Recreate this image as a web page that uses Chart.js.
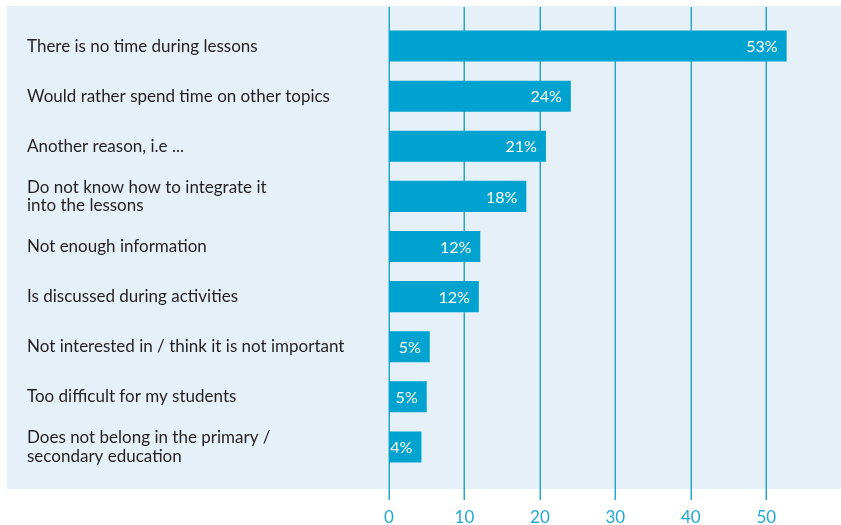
<!DOCTYPE html>
<html>
<head>
<meta charset="utf-8">
<script src="https://cdn.jsdelivr.net/npm/chart.js@4/dist/chart.umd.min.js"></script>
<style>
  html, body { margin: 0; padding: 0; background: #fff; }
  #wrap { width: 841px; height: 525px; }
</style>
</head>
<body>
<div id="wrap"><canvas id="reasonsChart" width="841" height="525"></canvas></div>
<script>
// -----------------------------
// Data
// -----------------------------
const reasons = [
  "There is no time during lessons",
  "Would rather spend time on other topics",
  "Another reason, i.e ...",
  ["Do not know how to integrate it", "into the lessons"],
  "Not enough information",
  "Is discussed during activities",
  "Not interested in / think it is not important",
  "Too difficult for my students",
  ["Does not belong in the primary /", "secondary education"]
];
const shares = [52.7, 24.1, 20.8, 18.2, 12.1, 11.9, 5.4, 5.0, 4.3];
const shareLabels = ["53%", "24%", "21%", "18%", "12%", "12%", "5%", "5%", "4%"];
const xTicks = [0, 10, 20, 30, 40, 50];

const BAR_BLUE = "#00a3cf";
const GRID_BLUE = "#2aa6d2";
const PANEL_BG = "#e6f0f9";
const FONT = "Lato, 'Noto Sans', sans-serif";

// -----------------------------
// Plugins: panel + long grid lines, value labels
// -----------------------------
const panelPlugin = {
  id: "panel",
  beforeDraw(chart) {
    const { ctx, scales: { x } } = chart;
    ctx.save();
    ctx.fillStyle = PANEL_BG;
    ctx.fillRect(7, 6, chart.width - 7, 483);
    ctx.strokeStyle = GRID_BLUE;
    ctx.lineWidth = 1.5;
    xTicks.forEach(t => {
      const px = Math.round(x.getPixelForValue(t)) + 0.25;
      ctx.beginPath();
      ctx.moveTo(px, 7);
      ctx.lineTo(px, 500);
      ctx.stroke();
    });
    ctx.restore();
  }
};

const valueLabels = {
  id: "valueLabels",
  afterDatasetsDraw(chart) {
    const { ctx } = chart;
    const meta = chart.getDatasetMeta(0);
    ctx.save();
    ctx.fillStyle = "#ffffff";
    ctx.font = "16px " + FONT;
    ctx.textAlign = "right";
    ctx.textBaseline = "middle";
    meta.data.forEach((bar, i) => {
      ctx.fillText(shareLabels[i], bar.x - 9, bar.y + 1);
    });
    ctx.restore();
  }
};

// -----------------------------
// Chart
// -----------------------------
new Chart(document.getElementById("reasonsChart"), {
  type: "bar",
  data: {
    labels: reasons,
    datasets: [{
      data: shares,
      backgroundColor: BAR_BLUE,
      borderWidth: 0,
      categoryPercentage: 1,
      barPercentage: 0.62
    }]
  },
  options: {
    indexAxis: "y",
    responsive: false,
    animation: false,
    layout: { padding: { left: 27, right: 37, top: 21, bottom: 0 } },
    plugins: {
      legend: { display: false },
      tooltip: { enabled: false }
    },
    scales: {
      x: {
        min: 0,
        max: 55,
        afterBuildTicks(scale) {
          scale.ticks = xTicks.map(v => ({ value: v }));
        },
        afterFit(scale) { scale.height = 53; },
        grid: { display: false, drawTicks: false },
        border: { display: false },
        ticks: {
          color: "#22a8d4",
          font: { family: FONT, size: 17 },
          padding: 35,
          maxRotation: 0
        }
      },
      y: {
        afterFit(scale) { scale.width = 389 - 27; },
        grid: { display: false, drawTicks: false },
        border: { display: false },
        ticks: {
          crossAlign: "far",
          color: "#231f20",
          font: { family: FONT, size: 17, lineHeight: 1.08 },
          padding: 0
        }
      }
    }
  },
  plugins: [panelPlugin, valueLabels]
});
</script>
</body>
</html>
